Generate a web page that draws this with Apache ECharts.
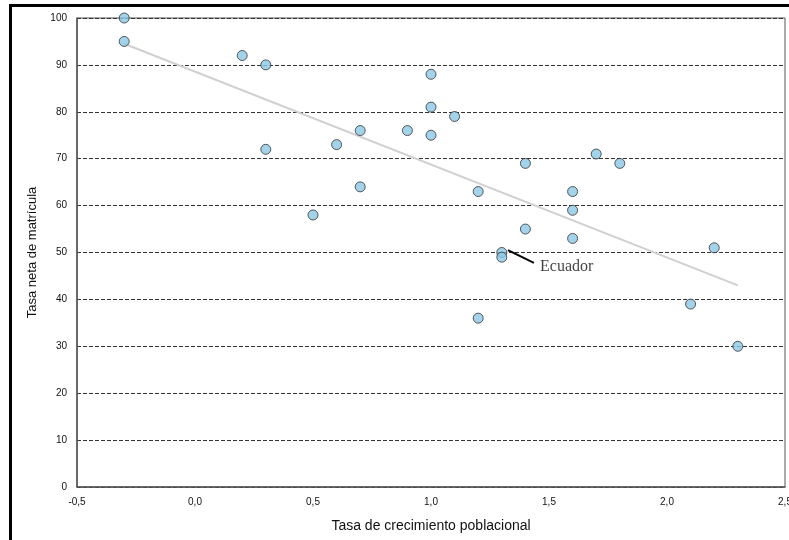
<!DOCTYPE html>
<html>
<head>
<meta charset="utf-8">
<script src="https://cdn.jsdelivr.net/npm/echarts@6/dist/echarts.min.js"></script>
<style>html,body{margin:0;padding:0;background:#fff}#c{width:789px;height:540px}</style>
</head>
<body>
<div id="c"></div>
<script>
const growthRate = [-0.3,-0.3,0.2,0.3,0.3,0.5,0.6,0.7,0.7,0.9,1.0,1.0,1.0,1.1,1.2,1.2,1.3,1.3,1.4,1.4,1.6,1.6,1.6,1.7,1.8,2.1,2.2,2.3];
const enrollment = [100,95,92,90,72,58,73,76,64,76,88,81,75,79,63,36,50,49,69,55,63,59,53,71,69,39,51,30];
const trendX = [-0.3, 2.3];
const trendY = [94.5, 43];
const ecuadorLeaderX = [1.326, 1.436];
const ecuadorLeaderY = [50.5, 47.8];
const ecuadorLabelPos = [1.462, 47.0];
const ecuadorLabel = 'Ecuador';
const xTitle = 'Tasa de crecimiento poblacional';
const yTitle = 'Tasa neta de matrícula';

const chart = echarts.init(document.getElementById('c'), null, {renderer:'canvas'});
const tickFont = {fontFamily:'Liberation Sans Narrow, Liberation Sans, Arial', fontSize:10, color:'#111'};
chart.setOption({
  backgroundColor:'#fff',
  animation:false,
  grid:{left:77, right:4, top:18, bottom:53, show:true, borderColor:'#555', borderWidth:1, backgroundColor:'transparent', outerBoundsMode:'none', containLabel:false},
  graphic:[
    {type:'rect', shape:{x:10, y:4, width:779, height:3}, style:{fill:'#000'}},
    {type:'rect', shape:{x:9, y:4, width:3, height:536}, style:{fill:'#000'}}
  ],
  xAxis:{
    type:'value', min:-0.5, max:2.5, interval:0.5,
    name:xTitle, nameLocation:'middle', nameGap:32,
    nameTextStyle:{fontFamily:'Liberation Sans, Arial', fontSize:14, color:'#111'},
    axisLine:{show:true, onZero:false, lineStyle:{color:'#555', width:1.5}},
    axisTick:{show:false},
    splitLine:{show:false},
    axisLabel:Object.assign({margin:10, formatter:v=>v.toFixed(1).replace('.',',')}, tickFont)
  },
  yAxis:{
    type:'value', min:0, max:100, interval:10,
    name:yTitle, nameLocation:'middle', nameGap:36,
    nameTextStyle:{fontFamily:'Liberation Sans, Arial', fontSize:13, color:'#111'},
    axisLine:{show:true, onZero:false, lineStyle:{color:'#555', width:1.5}},
    axisTick:{show:false},
    splitLine:{show:true, lineStyle:{color:'#333', width:1, type:[4,2]}},
    axisLabel:Object.assign({margin:10}, tickFont)
  },
  series:[
    {type:'line', data:trendX.map((x,i)=>[x,trendY[i]]), symbol:'none', lineStyle:{color:'#d0d0d0', width:2}, z:2},
    {type:'line', data:ecuadorLeaderX.map((x,i)=>[x,ecuadorLeaderY[i]]), symbol:'none', lineStyle:{color:'#000', width:2}, z:4},
    {type:'scatter', data:growthRate.map((x,i)=>[x,enrollment[i]]), symbol:'circle', symbolSize:10,
     itemStyle:{color:'#8cc8e6', borderColor:'#333', borderWidth:1}, z:5},
    {type:'scatter', data:[ecuadorLabelPos], symbolSize:0,
     label:{show:true, position:'right', distance:0, formatter:ecuadorLabel, fontFamily:'Liberation Serif, Times New Roman, serif', fontSize:16, color:'#111'}, z:6}
  ]
});
</script>
</body>
</html>
